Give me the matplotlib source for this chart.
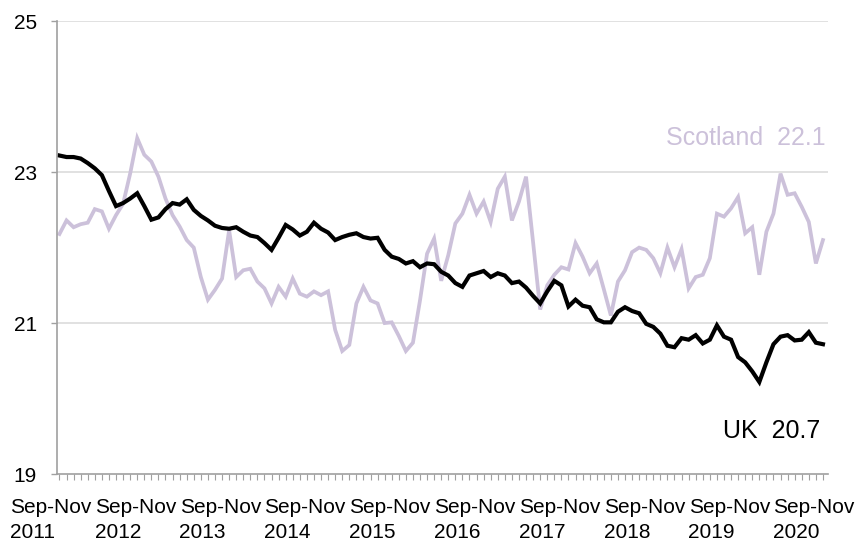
import numpy as np
import matplotlib
matplotlib.use("Agg")
import matplotlib.pyplot as plt
import matplotlib.transforms as mtransforms

plt.rcParams['font.family'] = ['Liberation Sans', 'DejaVu Sans']

# rolling 3 month values, Sep-Nov 2011 to Sep-Nov 2020
uk = [23.22, 23.20, 23.20, 23.18, 23.12, 23.05, 22.96, 22.75, 22.55, 22.59,
      22.65, 22.72, 22.55, 22.37, 22.40, 22.51, 22.59, 22.57, 22.64, 22.50,
      22.42, 22.36, 22.29, 22.26, 22.25, 22.27, 22.21, 22.16, 22.14, 22.06,
      21.97, 22.13, 22.30, 22.24, 22.16, 22.21, 22.33, 22.25, 22.20, 22.10,
      22.14, 22.17, 22.19, 22.14, 22.12, 22.13, 21.97, 21.88, 21.85, 21.79,
      21.82, 21.74, 21.79, 21.78, 21.68, 21.63, 21.53, 21.48, 21.63, 21.66,
      21.69, 21.61, 21.66, 21.63, 21.53, 21.55, 21.47, 21.36, 21.26, 21.42,
      21.56, 21.50, 21.22, 21.31, 21.23, 21.21, 21.05, 21.01, 21.01, 21.15,
      21.21, 21.16, 21.13, 20.99, 20.95, 20.86, 20.70, 20.68, 20.80, 20.78,
      20.84, 20.73, 20.78, 20.97, 20.82, 20.78, 20.55, 20.48, 20.36, 20.22,
      20.48, 20.72, 20.82, 20.84, 20.77, 20.78, 20.88, 20.74, 20.72]
scotland = [22.18, 22.36, 22.27, 22.31, 22.33, 22.51, 22.48, 22.25, 22.43, 22.58,
            22.98, 23.45, 23.23, 23.14, 22.94, 22.65, 22.43, 22.28, 22.10, 22.00,
            21.61, 21.31, 21.44, 21.59, 22.23, 21.61, 21.70, 21.72, 21.55, 21.46,
            21.26, 21.48, 21.35, 21.59, 21.39, 21.35, 21.42, 21.37, 21.42, 20.91,
            20.63, 20.71, 21.26, 21.48, 21.30, 21.26, 21.00, 21.01, 20.83, 20.63,
            20.74, 21.30, 21.92, 22.12, 21.56, 21.90, 22.32, 22.45, 22.70, 22.45,
            22.61, 22.34, 22.78, 22.94, 22.36, 22.61, 22.94, 22.07, 21.18, 21.50,
            21.64, 21.74, 21.71, 22.06, 21.88, 21.66, 21.79, 21.45, 21.10, 21.55,
            21.70, 21.94, 22.00, 21.97, 21.86, 21.66, 22.00, 21.74, 21.98, 21.46,
            21.61, 21.64, 21.86, 22.45, 22.41, 22.52, 22.67, 22.19, 22.27, 21.64,
            22.21, 22.45, 22.98, 22.70, 22.72, 22.54, 22.34, 21.79, 22.10]
years = ['2011', '2012', '2013', '2014', '2015', '2016', '2017', '2018', '2019', '2020']
period = 'Sep-Nov'
yticks = [19, 21, 23, 25]

lav = '#CCC1DA'
x = np.arange(len(uk))

fig = plt.figure(figsize=(8.66, 5.43), dpi=100)
ax = fig.add_axes([0.0658, 0.127, 0.8902, 0.834])

ax.plot(x, scotland, color=lav, lw=2.7, solid_joinstyle='miter')
ax.plot(x, uk, color='black', lw=3.0, solid_joinstyle='miter')

ax.set_xlim(-0.35, 108.7)
ax.set_ylim(19, 25)
ax.set_yticks(yticks)
ax.set_yticklabels([str(v) for v in yticks], fontsize=15)
for v in yticks[1:]:
    ax.axhline(v, color='#D9D9D9', lw=1.1, zorder=0)

for s in ['top', 'right']:
    ax.spines[s].set_visible(False)
for s in ['left', 'bottom']:
    ax.spines[s].set_color('#A0A0A0')
    ax.spines[s].set_linewidth(1.2)

ax.set_xticks(x, minor=True)
ax.set_xticks([])
ax.tick_params(axis='x', which='minor', length=4.5, width=0.8, color='#A0A0A0')
ax.tick_params(axis='y', length=4.5, width=1, color='#A0A0A0', pad=10)

# category labels, Excel-style (period line and year line offset)
trans = mtransforms.blended_transform_factory(ax.transData, ax.transAxes)
for k, yr in enumerate(years):
    ax.text(12 * k - 1.25, -0.073, period, transform=trans, ha='center', va='center', fontsize=15)
    ax.text(12 * k - 3.75, -0.130, yr, transform=trans, ha='center', va='center', fontsize=15)

ax.text(85.8, 23.36, 'Scotland  22.1', color=lav, fontsize=18, ha='left', va='baseline')
ax.text(93.8, 19.48, 'UK  20.7', color='black', fontsize=18, ha='left', va='baseline')

fig.savefig('out.png', dpi=100)
